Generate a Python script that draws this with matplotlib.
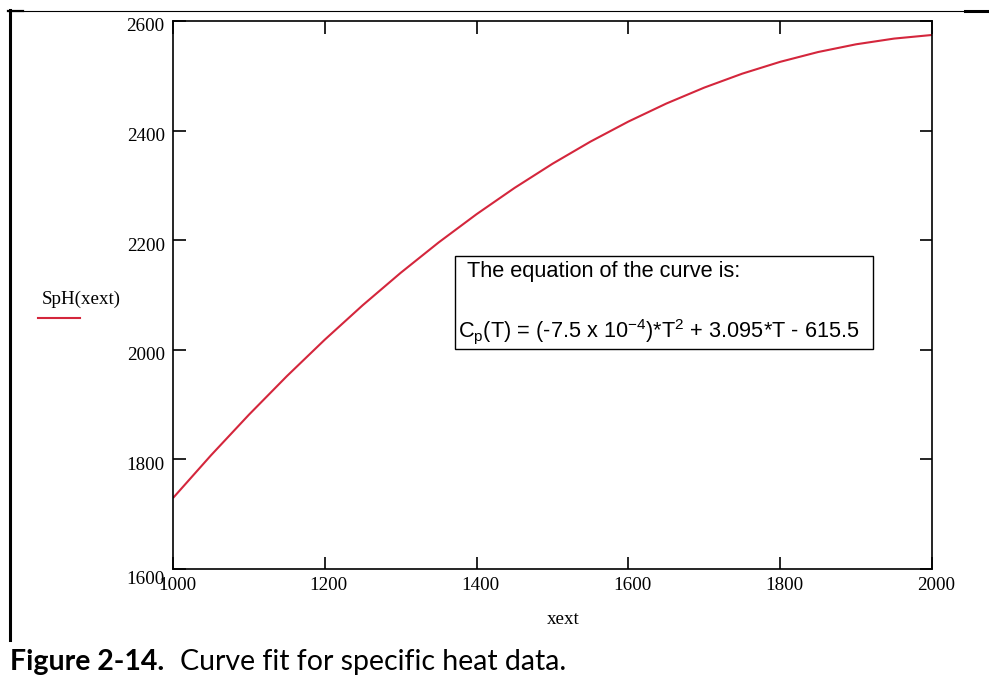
#!/usr/bin/env python3
"""Mathcad-style curve fit plot for specific heat data."""

import matplotlib
matplotlib.use("Agg")
import matplotlib.pyplot as plt
from matplotlib.patches import Rectangle
from matplotlib.lines import Line2D
from matplotlib.transforms import ScaledTranslation

# values (every 50 K)
xext = [1000, 1050, 1100, 1150, 1200, 1250, 1300, 1350, 1400, 1450, 1500,
        1550, 1600, 1650, 1700, 1750, 1800, 1850, 1900, 1950, 2000]
sph = [1729.5, 1807.4, 1881.5, 1951.9, 2018.5, 2081.4, 2140.5, 2195.9,
       2247.5, 2295.4, 2339.5, 2379.9, 2416.5, 2449.4, 2478.5, 2503.9,
       2525.5, 2543.4, 2557.5, 2567.9, 2574.5]

x_ticks = [1000, 1200, 1400, 1600, 1800, 2000]
y_ticks = [1600, 1800, 2000, 2200, 2400, 2600]

W, H = 989, 677
fig = plt.figure(figsize=(W / 100, H / 100), dpi=100)


def fx(px):
    return px / W


def fy(py):
    return 1 - py / H


serif = "Liberation Serif"
sans = "Liberation Sans"
red = "#d4263c"

ax = fig.add_axes([fx(173), fy(569), fx(932 - 173), (569 - 21) / H])
ax.plot(xext, sph, color=red, linewidth=1.5, solid_capstyle="butt")
ax.set_xlim(1000, 2000)
ax.set_ylim(1600, 2600)
ax.set_xticks(x_ticks)
ax.set_yticks(y_ticks)
for s in ax.spines.values():
    s.set_linewidth(1.2)
ax.tick_params(direction="in", length=9, width=1.2, top=True, right=True,
               labelsize=13.7, pad=6)
for lab in ax.get_xticklabels() + ax.get_yticklabels():
    lab.set_fontfamily(serif)
# Mathcad nudges labels a little down/right
for lab in ax.get_yticklabels():
    lab.set_transform(lab.get_transform() + ScaledTranslation(0, -0.04, fig.dpi_scale_trans))
for lab in ax.get_xticklabels():
    lab.set_transform(lab.get_transform() + ScaledTranslation(0.04, 0, fig.dpi_scale_trans))
ax.get_yticklabels()[0].set_transform(
    ax.get_yticklabels()[0].get_transform() + ScaledTranslation(0, -0.05, fig.dpi_scale_trans))

fig.text(fx(563), fy(620), "xext", fontsize=13.7, family=serif, ha="center", va="center")

# legend, Mathcad style
fig.text(fx(42), fy(299), "SpH(xext)", fontsize=13.7, family=serif, ha="left", va="center")
fig.add_artist(Line2D([fx(38), fx(80)], [fy(318), fy(318)], color=red, linewidth=1.5))

# equation box
fig.add_artist(Rectangle((fx(455), fy(349)), fx(873 - 455), (349 - 256) / H,
                         transform=fig.transFigure, facecolor="white",
                         edgecolor="black", linewidth=1.0))
fig.text(fx(467), fy(272), "The equation of the curve is:", fontsize=15.7,
         family=sans, ha="left", va="center")
fig.text(fx(458), fy(331),
         r"C$_\mathregular{p}$(T) = (-7.5 x 10$^\mathregular{-4}$)*T$^\mathregular{2}$"
         r" + 3.095*T - 615.5",
         fontsize=15.7, family=sans, ha="left", va="center")

# outer frame of the figure panel
fig.add_artist(Line2D([fx(8), fx(989)], [fy(10.5), fy(10.5)], color="black", linewidth=0.8))
fig.add_artist(Line2D([fx(8), fx(23)], [fy(11), fy(11)], color="black", linewidth=1.6))
fig.add_artist(Line2D([fx(965), fx(989)], [fy(11), fy(11)], color="black", linewidth=2.2))
fig.add_artist(Line2D([fx(9.5), fx(9.5)], [fy(10), fy(640)], color="black", linewidth=2.2))

# caption
fig.text(fx(10), fy(670), "Figure 2-14.", fontsize=20.5, family="Lato",
         fontweight="bold", ha="left", va="baseline")
fig.text(fx(180), fy(670), "Curve fit for specific heat data.", fontsize=20.5,
         family="Lato", ha="left", va="baseline")

fig.savefig("out.png", dpi=100)
